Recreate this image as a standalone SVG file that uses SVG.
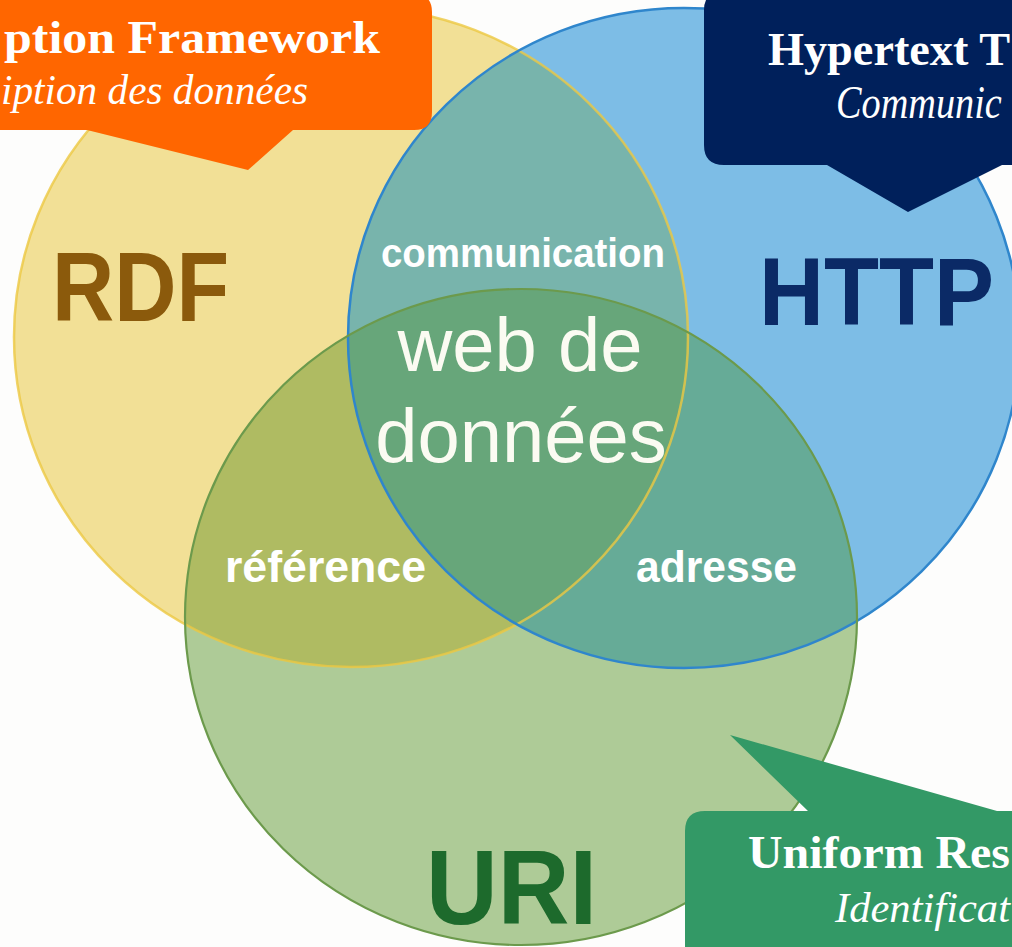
<svg xmlns="http://www.w3.org/2000/svg" width="1012" height="947" viewBox="0 0 1012 947">
<style>
.big{font-family:"Liberation Sans",Arial,sans-serif;font-weight:bold}
.lab{font-family:"Liberation Sans",Arial,sans-serif;font-weight:bold;fill:#ffffff}
.ctr{font-family:"Liberation Sans",Arial,sans-serif;fill:#fbfbf2}
.ct1{font-family:"Liberation Serif","Times New Roman",serif;font-weight:bold;font-size:46px;fill:#ffffff}
.ct2{font-family:"Liberation Serif","Times New Roman",serif;font-style:italic;font-size:43px;fill:#ffffff}
</style>
<defs>
<clipPath id="cY"><ellipse cx="351" cy="337" rx="337" ry="330"/></clipPath>
<clipPath id="cB"><ellipse cx="684" cy="338" rx="336" ry="330"/></clipPath>
</defs>
<rect width="1012" height="947" fill="#fdfdfc"/>
<g id="regions">
<ellipse cx="351" cy="337" rx="337" ry="330" fill="#f2e096"/>
<ellipse cx="684" cy="338" rx="336" ry="330" fill="#7dbde6"/>
<ellipse cx="521" cy="617" rx="336" ry="328" fill="#aecb97"/>
<ellipse cx="684" cy="338" rx="336" ry="330" fill="#78b4ac" clip-path="url(#cY)"/>
<ellipse cx="521" cy="617" rx="336" ry="328" fill="#afbb62" clip-path="url(#cY)"/>
<ellipse cx="521" cy="617" rx="336" ry="328" fill="#66ab97" clip-path="url(#cB)"/>
<g clip-path="url(#cY)"><ellipse cx="521" cy="617" rx="336" ry="328" fill="#67a67a" clip-path="url(#cB)"/></g>
</g>
<g id="outlines" fill="none">
<ellipse cx="351" cy="337" rx="337" ry="330" stroke="#ecc842" stroke-width="2.5" opacity="0.8"/>
<ellipse cx="684" cy="338" rx="336" ry="330" stroke="#2f86cc" stroke-width="2.5"/>
<ellipse cx="521" cy="617" rx="336" ry="328" stroke="#6c9a4c" stroke-width="2.2"/>
</g>
<g id="node-rdf"><text class="big" x="52" y="321" font-size="98" fill="#8b5a0c" textLength="177" lengthAdjust="spacingAndGlyphs">RDF</text></g>
<g id="node-http"><text class="big" transform="translate(759,325) scale(1,1.08)" x="0" y="0" font-size="90" fill="#0b2a66">HTTP</text></g>
<g id="node-uri"><text class="big" x="426" y="924" font-size="106" fill="#1d6a2c" textLength="171" lengthAdjust="spacingAndGlyphs">URI</text></g>
<g id="node-communication"><text class="lab" x="381" y="267" font-size="40" textLength="284" lengthAdjust="spacingAndGlyphs">communication</text></g>
<g id="node-reference"><text class="lab" x="225" y="582" font-size="44" textLength="201" lengthAdjust="spacingAndGlyphs">référence</text></g>
<g id="node-adresse"><text class="lab" x="636" y="582" font-size="44" textLength="161" lengthAdjust="spacingAndGlyphs">adresse</text></g>
<g id="node-web"><text class="ctr" x="520" y="371" font-size="76" text-anchor="middle">web de</text><text class="ctr" x="521" y="462" font-size="76" text-anchor="middle">données</text></g>
<g id="callout-rdf">
<path d="M-20,-6 H414 Q432,-6 432,12 V112 Q432,130 414,130 H293 L248,170 L87,130 H-20 Z" fill="#ff6600"/>
<text class="ct1" x="4" y="53" textLength="376" lengthAdjust="spacingAndGlyphs">ption Framework</text>
<text class="ct2" x="1" y="104" font-size="42" textLength="307" lengthAdjust="spacingAndGlyphs">iption des données</text>
</g>
<g id="callout-http">
<path d="M1030,-8 H722 Q704,-8 704,10 V145 Q704,165 724,165 H827 L908,212 L1002,165 H1030 Z" fill="#00205b"/>
<text class="ct1" x="768" y="65" textLength="242" lengthAdjust="spacingAndGlyphs">Hypertext T</text>
<text class="ct2" transform="translate(836,118) scale(0.89,1.07)" x="0" y="0" font-size="40">Communic</text>
</g>
<g id="callout-uri">
<path d="M1030,811 H997 L730,735 L808,811 H705 Q685,811 685,831 V960 H1030 Z" fill="#339966"/>
<text class="ct1" x="748" y="868" textLength="262" lengthAdjust="spacingAndGlyphs">Uniform Res</text>
<text class="ct2" x="835" y="922" textLength="175" lengthAdjust="spacingAndGlyphs">Identificat</text>
</g>
</svg>
